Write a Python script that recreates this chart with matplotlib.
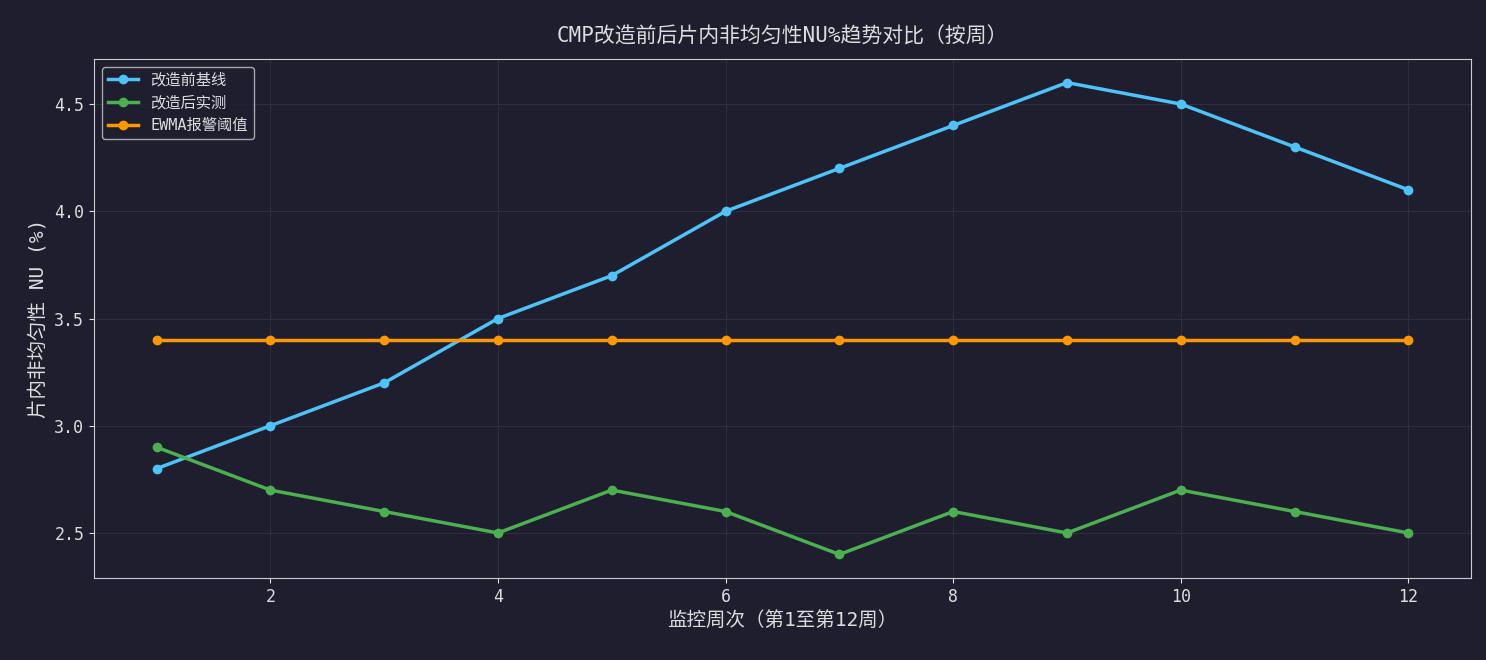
import matplotlib
matplotlib.use("Agg")
import matplotlib.pyplot as plt

plt.rcParams['font.family'] = ['DejaVu Sans Mono', 'Noto Sans CJK SC']

# data
weeks = list(range(1, 13))
before = [2.8, 3.0, 3.2, 3.5, 3.7, 4.0, 4.2, 4.4, 4.6, 4.5, 4.3, 4.1]
after = [2.9, 2.7, 2.6, 2.5, 2.7, 2.6, 2.4, 2.6, 2.5, 2.7, 2.6, 2.5]
threshold = [3.4] * 12

bg = '#1e1e2e'
fg = '#dddddd'

fig = plt.figure(figsize=(14.86, 6.6), dpi=100, facecolor=bg)
ax = fig.add_axes([94/1486, 82/660, (1471-94)/1486, (578-59)/660])
ax.set_facecolor(bg)

ax.plot(weeks, before, color='#4fc3f7', lw=2.5, marker='o', ms=6, label='改造前基线')
ax.plot(weeks, after, color='#4caf50', lw=2.5, marker='o', ms=6, label='改造后实测')
ax.plot(weeks, threshold, color='#ff9800', lw=2.5, marker='o', ms=6, label='EWMA报警阈值')

ax.set_xticks([2, 4, 6, 8, 10, 12])
ax.set_yticks([2.5, 3.0, 3.5, 4.0, 4.5])
ax.set_ylim(2.29, 4.71)
ax.grid(True, color='#3a3a4a', alpha=0.6, lw=0.8)
for s in ax.spines.values():
    s.set_color('#cccccc')
ax.tick_params(colors=fg, labelsize=12)

ax.set_title('CMP改造前后片内非均匀性NU%趋势对比（按周）', color=fg, fontsize=15, pad=12)
ax.set_xlabel('监控周次（第1至第12周）', color=fg, fontsize=14)
ax.set_ylabel('片内非均匀性 NU (%)', color=fg, fontsize=14)

leg = ax.legend(loc='upper left', facecolor=bg, edgecolor='#cccccc', fontsize=11)
for t in leg.get_texts():
    t.set_color(fg)

fig.savefig('out.png', facecolor=bg)
